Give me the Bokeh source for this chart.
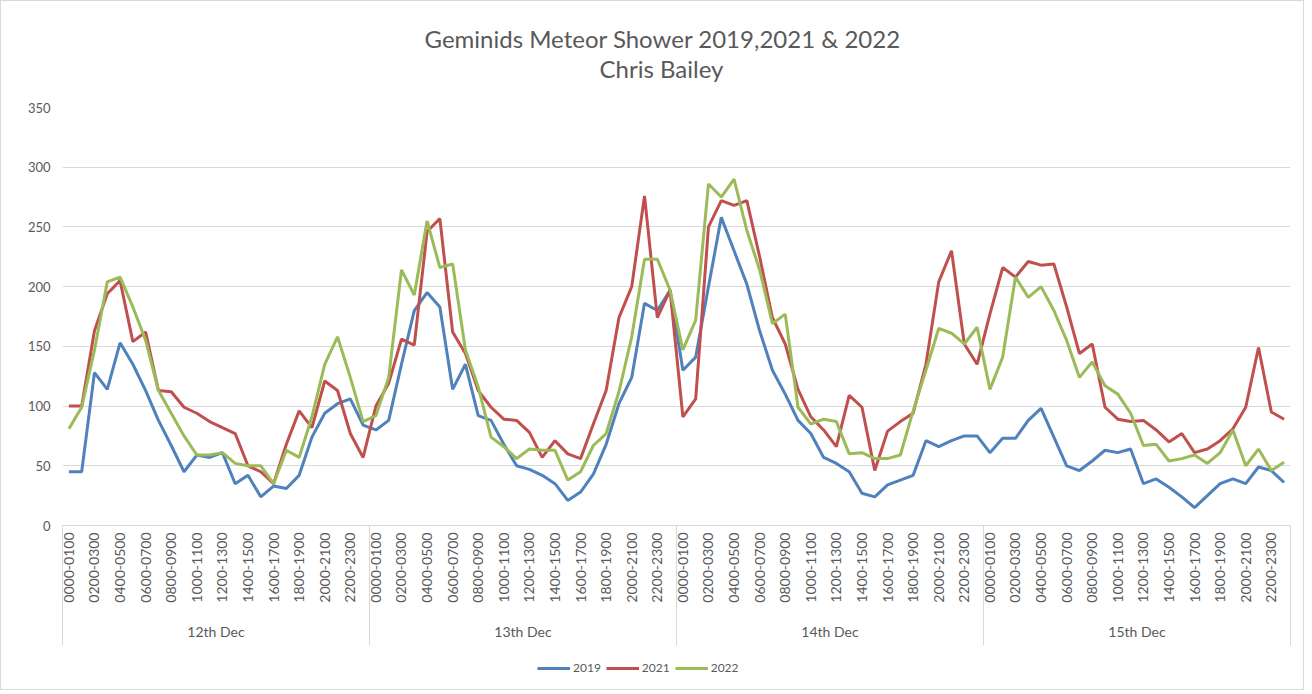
import math
from bokeh.plotting import figure
from bokeh.layouts import column
from bokeh.models import (FixedTicker, LinearAxis, Legend, LegendItem, Title,
                          ColumnDataSource, Range1d)
from bokeh.embed import file_html
from bokeh.resources import INLINE

# ---------------- data ----------------
days = ["12th Dec", "13th Dec", "14th Dec", "15th Dec"]
hour_labels = ["%02d00-%02d00" % (h, h + 1) for h in range(24)]
series_names = ["2019", "2021", "2022"]

y2019 = [45, 45, 128, 114, 153, 135, 113, 88, 67, 45, 59, 57, 61, 35, 42, 24, 33, 31, 42, 74, 94, 102, 106, 84,
         80, 88, 135, 180, 195, 183, 114, 135, 92, 88, 68, 50, 47, 42, 35, 21, 28, 43, 68, 102, 124, 186, 180, 197,
         130, 141, 200, 258, 230, 202, 163, 130, 110, 88, 77, 57, 52, 45, 27, 24, 34, 38, 42, 71, 66, 71, 75, 75,
         61, 73, 73, 88, 98, 74, 50, 46, 54, 63, 61, 64, 35, 39, 32, 24, 15, 25, 35, 39, 35, 49, 46, 36]
y2021 = [100, 100, 163, 194, 205, 154, 162, 113, 112, 99, 94, 87, 82, 77, 50, 45, 35, 68, 96, 82, 121, 113, 77, 57,
         100, 119, 156, 151, 246, 257, 162, 144, 113, 99, 89, 88, 78, 57, 71, 60, 56, 85, 113, 174, 200, 276, 174, 197,
         91, 106, 250, 272, 268, 272, 225, 174, 152, 114, 91, 80, 66, 109, 99, 46, 79, 87, 94, 135, 204, 230, 152, 135,
         177, 216, 208, 221, 218, 219, 183, 144, 152, 99, 89, 87, 88, 80, 70, 77, 61, 64, 71, 81, 99, 149, 95, 89]
y2022 = [81, 99, 147, 204, 208, 183, 155, 113, 94, 75, 59, 59, 61, 52, 50, 50, 35, 63, 57, 91, 135, 158, 124, 87,
         92, 124, 214, 193, 255, 216, 219, 147, 116, 74, 66, 56, 64, 63, 63, 38, 45, 67, 77, 112, 158, 223, 223, 197,
         147, 172, 286, 275, 290, 247, 214, 169, 177, 99, 85, 89, 87, 60, 61, 56, 56, 59, 96, 130, 165, 161, 152, 166,
         114, 141, 208, 191, 200, 180, 155, 124, 137, 117, 110, 94, 67, 68, 54, 56, 59, 52, 61, 80, 50, 64, 46, 53]

title_main = "Geminids Meteor Shower 2019,2021 & 2022"
title_sub = "Chris Bailey"

colors = ["#4F81BD", "#C0504D", "#9BBB59"]
TXT = "#595959"
GRID = "#d9d9d9"
FONT = "Lato"

n = len(y2019)
npd = len(hour_labels)
xs = [2 * i + 1 for i in range(n)]   # category centres (two units per category)

src = ColumnDataSource(dict(x=xs, y2019=y2019, y2021=y2021, y2022=y2022))

W = 1302
p = figure(width=W, height=648, output_backend="svg", toolbar_location=None,
           x_range=Range1d(0, 2 * n), y_range=Range1d(0, 350),
           min_border_left=61, min_border_right=13, min_border_top=106, min_border_bottom=124)
p.outline_line_color = None
p.background_fill_color = "white"
p.border_fill_color = "white"

# titles: main line on top, author line just above the plot
p.title.text = title_main
p.title.align = "left"
p.title.offset = 362
p.title.text_font = FONT
p.title.text_font_size = "24px"
p.title.text_font_style = "normal"
p.title.text_color = TXT
p.title.standoff = -51
t2 = Title(text=title_sub, align="left", offset=537, text_font=FONT,
           text_font_size="24px", text_font_style="normal", text_color=TXT, standoff=49)
p.add_layout(t2, "above")

# y axis
p.yaxis.ticker = FixedTicker(ticks=list(range(0, 351, 50)))
p.yaxis.axis_line_color = None
p.yaxis.major_tick_line_color = None
p.yaxis.minor_tick_line_color = None
p.yaxis.major_tick_out = 0
p.yaxis.minor_tick_out = 0
p.yaxis.major_label_text_font = FONT
p.yaxis.major_label_text_font_size = "13px"
p.yaxis.major_label_text_color = TXT
p.yaxis.major_label_standoff = 12
p.ygrid.grid_line_color = GRID
p.xgrid.grid_line_color = None

# x axis: hour labels (every other category) + day separators
tick_pos = [2 * (d * npd + h) + 1 for d in range(len(days)) for h in range(0, npd, 2)]
overrides = {2 * (d * npd + h) + 1: hour_labels[h] for d in range(len(days)) for h in range(0, npd, 2)}
sep = [2 * npd * d for d in range(len(days) + 1)]
xa = p.xaxis[0]
xa.ticker = FixedTicker(ticks=tick_pos, minor_ticks=sep)
xa.major_label_overrides = overrides
xa.major_label_orientation = math.pi / 2
xa.major_tick_line_color = None
xa.major_tick_out = 0
xa.major_tick_in = 0
xa.minor_tick_out = 120
xa.minor_tick_in = 0
xa.minor_tick_line_color = GRID
xa.axis_line_color = GRID
xa.major_label_text_font = FONT
xa.major_label_text_font_size = "14px"
xa.major_label_text_color = TXT
xa.major_label_standoff = -113

# day axis
day_pos = [2 * npd * d + npd for d in range(len(days))]
da = LinearAxis(ticker=FixedTicker(ticks=day_pos, minor_ticks=[]),
                major_label_overrides={day_pos[i]: days[i] for i in range(len(days))})
da.axis_line_color = None
da.major_tick_line_color = None
da.minor_tick_line_color = None
da.major_tick_out = 0
da.minor_tick_out = 0
da.major_label_text_font = FONT
da.major_label_text_font_size = "14px"
da.major_label_text_color = TXT
da.major_label_standoff = 17
p.add_layout(da, "below")

# lines
for name, c in zip(series_names, colors):
    p.line("x", "y" + name, source=src, line_color=c, line_width=3)

# legend strip below the chart (same series, view scrolled away so only the key shows)
lf = figure(width=W, height=40, output_backend="svg", toolbar_location=None,
            x_range=Range1d(-20, -10), y_range=Range1d(-20, -10), min_border=0,
            x_axis_location=None, y_axis_location=None)
lf.outline_line_color = None
lf.grid.visible = False
proxies = [lf.line("x", "y" + nm, source=src, line_color=c, line_width=3)
           for nm, c in zip(series_names, colors)]
legend = Legend(items=[LegendItem(label=nm, renderers=[r]) for nm, r in zip(series_names, proxies)],
                orientation="horizontal", location=(475, 14), border_line_color=None,
                background_fill_alpha=0, label_text_font=FONT, label_text_font_size="12px",
                label_text_color=TXT, glyph_width=33, glyph_height=14, spacing=5,
                label_standoff=3, padding=4, margin=0)
lf.add_layout(legend, "center")

layout = column(p, lf, spacing=0, styles={"border": "1px solid #d9d9d9"})
open("out.html", "w").write(file_html(layout, INLINE))
